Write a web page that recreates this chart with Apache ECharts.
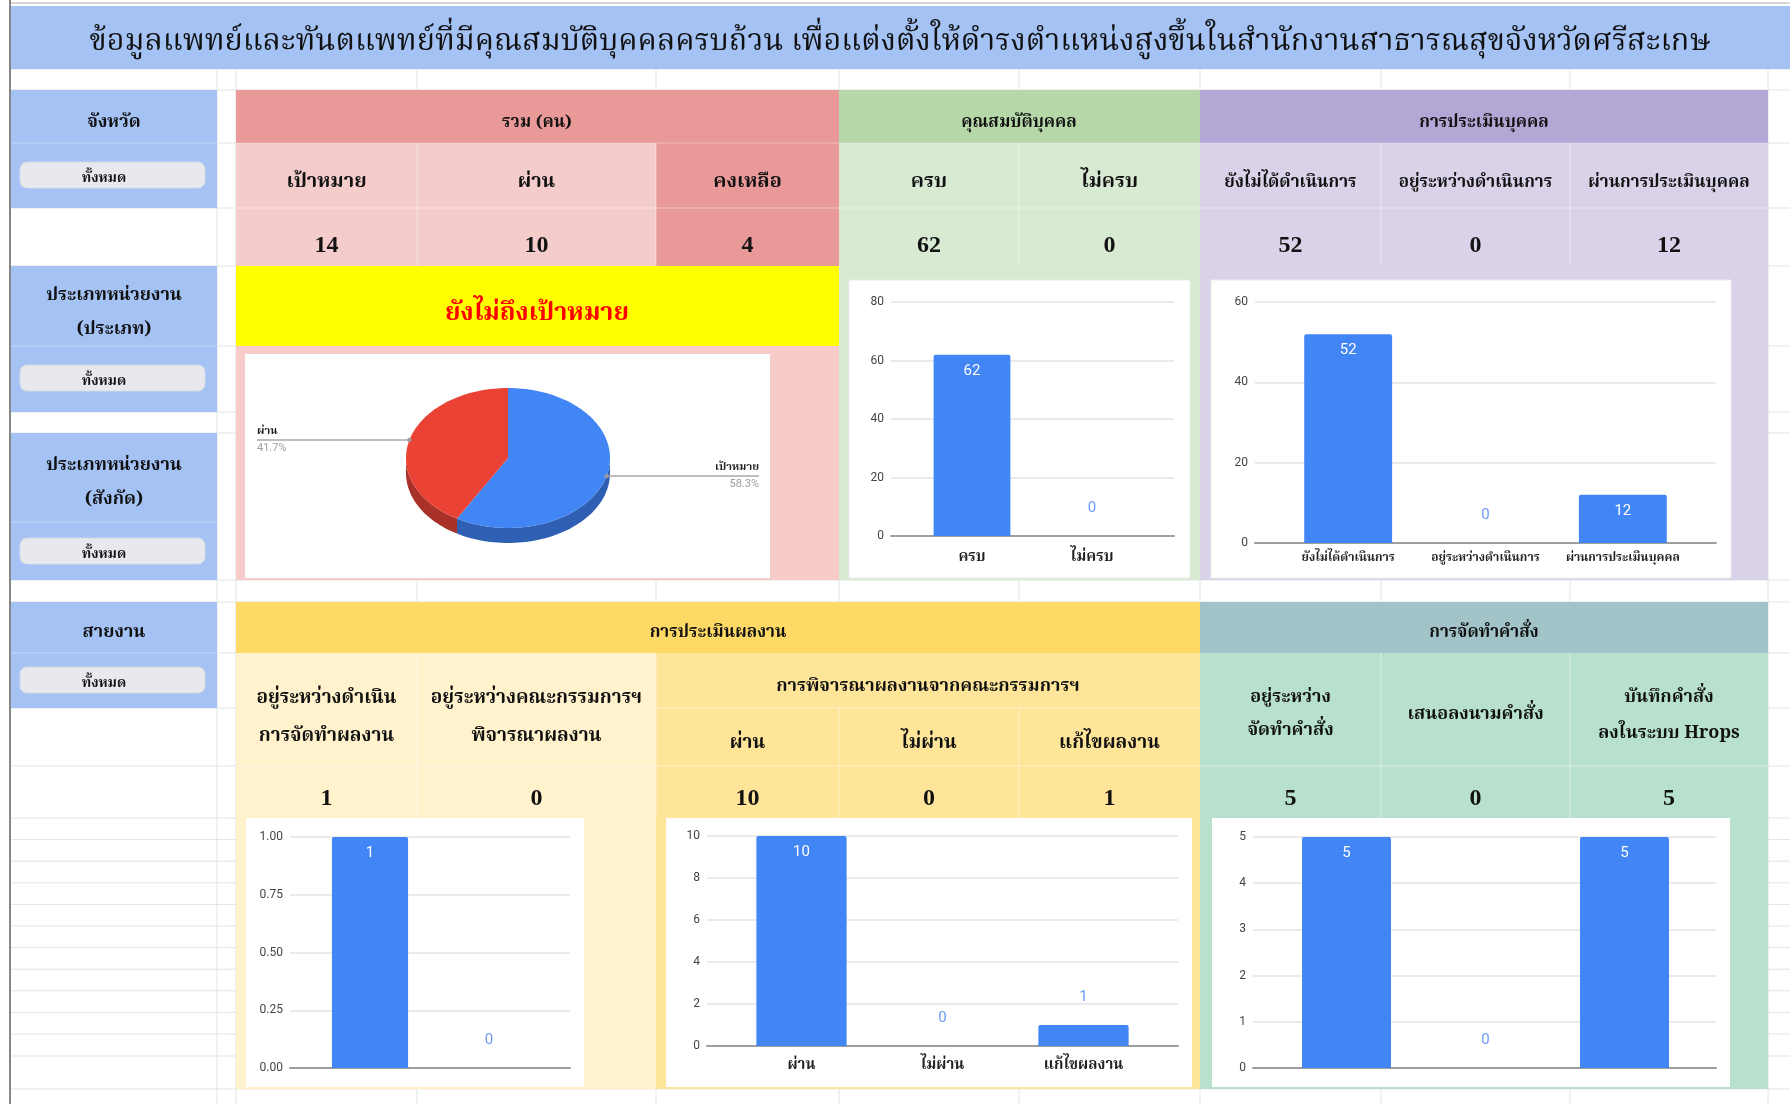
<!DOCTYPE html>
<html><head><meta charset="utf-8">
<script src="https://cdn.jsdelivr.net/npm/echarts@6/dist/echarts.min.js"></script>
<style>html,body{margin:0;padding:0;background:#fff}#c{width:1790px;height:1104px}</style>
</head><body><div id="c"></div><script>
// ---------------- data ----------------
const titleText = 'ข้อมูลแพทย์และทันตแพทย์ที่มีคุณสมบัติบุคคลครบถ้วน เพื่อแต่งตั้งให้ดำรงตำแหน่งสูงขึ้นในสำนักงานสาธารณสุขจังหวัดศรีสะเกษ';
const filterLabels = ['จังหวัด', 'ประเภทหน่วยงาน\n(ประเภท)', 'ประเภทหน่วยงาน\n(สังกัด)', 'สายงาน'];
const filterValue = 'ทั้งหมด';
const groupHeaders = ['รวม (คน)', 'คุณสมบัติบุคคล', 'การประเมินบุคคล'];
const totalCats = ['เป้าหมาย', 'ผ่าน', 'คงเหลือ'];
const totalVals = [14, 10, 4];
const qualCats = ['ครบ', 'ไม่ครบ'];
const qualVals = [62, 0];
const qualTicks = [0, 20, 40, 60, 80];
const personCats = ['ยังไม่ได้ดำเนินการ', 'อยู่ระหว่างดำเนินการ', 'ผ่านการประเมินบุคคล'];
const personVals = [52, 0, 12];
const personTicks = [0, 20, 40, 60];
const statusText = 'ยังไม่ถึงเป้าหมาย';
const pieCats = ['เป้าหมาย', 'ผ่าน'];
const pieVals = [14, 10];
const bottomHeaders = ['การประเมินผลงาน', 'การจัดทำคำสั่ง'];
const workCats = ['อยู่ระหว่างดำเนิน\nการจัดทำผลงาน', 'อยู่ระหว่างคณะกรรมการฯ\nพิจารณาผลงาน'];
const workVals = [1, 0];
const workTicks = [0, 0.25, 0.5, 0.75, 1];
const reviewHeader = 'การพิจารณาผลงานจากคณะกรรมการฯ';
const reviewCats = ['ผ่าน', 'ไม่ผ่าน', 'แก้ไขผลงาน'];
const reviewVals = [10, 0, 1];
const reviewTicks = [0, 2, 4, 6, 8, 10];
const orderCats = ['อยู่ระหว่าง\nจัดทำคำสั่ง', 'เสนอลงนามคำสั่ง', 'บันทึกคำสั่ง\nลงในระบบ Hrops'];
const orderVals = [5, 0, 5];
const orderTicks = [0, 1, 2, 3, 4, 5];

// ---------------- layout / style ----------------
const TH = "'Noto Serif Thai','Noto Sans Thai','Sarabun','Tlwg Typo','Garuda','Loma','Kinnari','Norasi','Noto Sans',sans-serif";
const NUM = "'Liberation Serif','Times New Roman',serif";
const RB = "Roboto,'Noto Sans',sans-serif";
const COLX = [236, 417, 656, 839, 1019, 1200, 1381, 1570, 1768];
const mid = i => (COLX[i] + COLX[i + 1]) / 2;
const G = [];
function rect(x, y, w, h, fill, o) {
  o = o || {};
  G.push({type: 'rect', silent: true, z: o.z != null ? o.z : 1,
    shape: {x, y, width: w, height: h, r: o.r || 0},
    style: {fill, stroke: o.stroke || null, lineWidth: o.lw || 0}});
}
function line(x1, y1, x2, y2, stroke, lw, z) {
  G.push({type: 'line', silent: true, z: z != null ? z : 2,
    shape: {x1, y1, x2, y2}, style: {stroke, lineWidth: lw || 1}});
}
function text(str, x, y, size, o) {
  o = o || {};
  G.push({type: 'text', silent: true, z: 4,
    style: {text: str, x, y, fill: o.fill || '#111',
      font: (o.weight || 'normal') + ' ' + size + 'px ' + (o.family || TH),
      align: o.align || 'center', textAlign: o.align || 'center',
      verticalAlign: 'middle', textVerticalAlign: 'middle',
      lineHeight: o.lh || Math.round(size * 1.6)}});
}
const B = {weight: 'bold'};

// spreadsheet gridlines
const rowLines = [69, 90, 143, 208, 266, 346, 412, 433, 580, 602, 653, 708, 766];
for (let k = 0; k <= 10; k++) rowLines.push(818 + 21.6 * k);
rowLines.push(1056, 1089);
rowLines.forEach(y => line(10, y, 1790, y, '#e2e3e3', 1, 0));
[217, 236].concat(COLX.slice(1)).forEach(x => line(x, 69, x, 1104, '#e2e3e3', 1, 0));
line(10, 3, 1790, 3, '#c8c8c8', 1.5, 0);
line(10, 0, 10, 1104, '#5f5f5f', 1.5, 6);

// title
rect(11, 6, 1779, 63, '#a4c2f4');
text(titleText, 900, 45, 30.5);

// left filter column
const fBoxes = [[90, 118], [266, 146], [433, 147], [602, 106]];
const fLabelY = [124, 314, 484, 634];
const fBtnY = [162, 365, 538, 667];
const fInner = [143, 346, 522, 653];
fBoxes.forEach((b, i) => {
  rect(11, b[0], 206, b[1], '#a4c2f4');
  line(11, fInner[i], 217, fInner[i], 'rgba(255,255,255,0.35)', 1, 2);
  text(filterLabels[i], 114, fLabelY[i], 18, {weight: 'bold', lh: 34});
  rect(20, fBtnY[i], 185, 26, '#e8e9ee', {r: 7, stroke: '#d6dae6', lw: 1, z: 3});
  text(filterValue, 104, fBtnY[i] + 18, 14, B);
});

// top table backgrounds
rect(236, 90, 603, 53, '#ea9999');
rect(839, 90, 361, 53, '#b6d7a8');
rect(1200, 90, 568, 53, '#b4a7d6');
rect(236, 143, 420, 123, '#f4cccc');
rect(656, 143, 183, 123, '#ea9999');
rect(839, 143, 361, 437, '#d9ead3');
rect(1200, 143, 568, 437, '#d9d2e9');
rect(236, 266, 603, 80, '#ffff00');
rect(236, 346, 603, 234, '#f8cbcb');
line(236, 208, 1768, 208, 'rgba(255,255,255,0.45)', 1, 2);
[417, 656, 1019, 1381, 1570].forEach(x => line(x, 143, x, 266, 'rgba(255,255,255,0.45)', 1, 2));
line(236, 143, 1768, 143, 'rgba(255,255,255,0.3)', 1, 2);

text(groupHeaders[0], 537, 124, 17, B);
text(groupHeaders[1], 1019, 124, 17, B);
text(groupHeaders[2], 1484, 124, 17, B);
const topCats = totalCats.concat(qualCats, personCats);
const topVals = totalVals.concat(qualVals, personVals);
topCats.forEach((c, i) => text(c, mid(i), 184, i >= 5 ? 17 : 20, B));
topVals.forEach((v, i) => text(String(v), mid(i), 246, 24, {family: NUM, weight: 'bold'}));
text(statusText, 537, 316, 25, {fill: '#ff0000', weight: 'bold'});

// white chart boxes (top)
rect(245, 354, 525, 224, '#ffffff', {z: 2});
rect(849, 280, 341, 298, '#ffffff', {z: 2, stroke: '#ececec', lw: 1});
rect(1211, 280, 520, 298, '#ffffff', {z: 2, stroke: '#ececec', lw: 1});

// bottom table backgrounds
rect(236, 602, 964, 51, '#ffd966');
rect(1200, 602, 568, 51, '#a2c4c9');
rect(236, 653, 420, 436, '#fff2cc');
rect(656, 653, 544, 436, '#ffe599');
rect(1200, 653, 568, 436, '#b7e1cd');
line(656, 708, 1200, 708, 'rgba(255,255,255,0.5)', 1, 2);
[839, 1019].forEach(x => line(x, 708, x, 818, 'rgba(255,255,255,0.5)', 1, 2));
[417, 656, 1381, 1570].forEach(x => line(x, 653, x, 818, 'rgba(255,255,255,0.5)', 1, 2));
line(236, 766, 1768, 766, 'rgba(255,255,255,0.5)', 1, 2);
text(bottomHeaders[0], 718, 634, 17, B);
text(bottomHeaders[1], 1484, 634, 17, B);
text(workCats[0], mid(0), 719, 19, {weight: 'bold', lh: 38});
text(workCats[1], mid(1), 719, 19, {weight: 'bold', lh: 38});
text(reviewHeader, 928, 688, 18, B);
reviewCats.forEach((c, i) => text(c, mid(2 + i), 745, 19, B));
text(orderCats[0], mid(5), 716, 18, {weight: 'bold', lh: 33});
text(orderCats[1], mid(6), 716, 18, B);
text(orderCats[2], mid(7), 717, 18, {weight: 'bold', lh: 36});
const botVals = workVals.concat(reviewVals, orderVals);
botVals.forEach((v, i) => text(String(v), mid(i), 799, 24, {family: NUM, weight: 'bold'}));

// white chart boxes (bottom)
rect(246, 818, 338, 269, '#ffffff', {z: 2});
rect(666, 818, 526, 269, '#ffffff', {z: 2});
rect(1212, 818, 518, 269, '#ffffff', {z: 2});

// ---------------- bar charts ----------------
const grids = [], xAxes = [], yAxes = [], series = [];
function addBar(c) {
  const gi = grids.length;
  const ymin = c.ticks[0], ymax = c.ticks[c.ticks.length - 1], step = c.ticks[1] - c.ticks[0];
  grids.push({left: c.wide[0], top: c.top, width: c.wide[1] - c.wide[0], height: c.bottom - c.top, outerBoundsMode: 'none'});
  grids.push({left: c.narrow[0], top: c.top, width: c.narrow[1] - c.narrow[0], height: c.bottom - c.top, outerBoundsMode: 'none'});
  xAxes.push({gridIndex: gi, type: 'value', min: 0, max: 1, z: 5,
    axisLine: {show: true, lineStyle: {color: '#9e9e9e', width: 2}},
    axisTick: {show: false}, axisLabel: {show: false}, splitLine: {show: false}});
  yAxes.push({gridIndex: gi, type: 'value', min: ymin, max: ymax, interval: step, z: 5,
    axisLine: {show: false}, axisTick: {show: false},
    axisLabel: {margin: 7, fontFamily: RB, fontSize: 12, color: '#444',
      formatter: v => c.dec ? v.toFixed(c.dec) : String(v)},
    splitLine: {lineStyle: {color: '#e3e3e3', width: 1.5}}});
  xAxes.push({gridIndex: gi + 1, type: 'category', data: c.cats, z: 5,
    axisLine: {show: false}, axisTick: {show: false}, splitLine: {show: false},
    axisLabel: {show: !!c.showX, interval: 0, margin: c.xMargin || 10, fontFamily: TH,
      fontWeight: 'bold', fontSize: c.xSize || 14, color: '#222'}});
  yAxes.push({gridIndex: gi + 1, type: 'value', min: ymin, max: ymax, show: false, splitLine: {show: false}});
  series.push({type: 'bar', xAxisIndex: gi + 1, yAxisIndex: gi + 1, z: 10, barWidth: '64%',
    itemStyle: {color: '#4285f4', borderRadius: [2, 2, 0, 0]},
    data: c.vals.map(v => {
      const inside = v / ymax > 0.15;
      return {value: v, label: {show: true, position: inside ? 'insideTop' : 'top',
        distance: inside ? 9 : 20, color: inside ? '#ffffff' : '#6a9bf4',
        fontFamily: RB, fontSize: 15}};
    })});
}
addBar({cats: qualCats, vals: qualVals, ticks: qualTicks, wide: [891, 1174], narrow: [912, 1152], top: 302, bottom: 536, showX: true, xSize: 15, xMargin: 15});
addBar({cats: personCats, vals: personVals, ticks: personTicks, wide: [1255, 1716], narrow: [1279.5, 1691.5], top: 302, bottom: 543, showX: true, xSize: 12, xMargin: 10});
addBar({cats: workCats, vals: workVals, ticks: workTicks, wide: [290, 570], narrow: [310.5, 548.5], top: 837, bottom: 1068, dec: 2});
addBar({cats: reviewCats, vals: reviewVals, ticks: reviewTicks, wide: [707, 1178], narrow: [731, 1154], top: 836, bottom: 1046, showX: true, xSize: 15, xMargin: 13});
addBar({cats: orderCats, vals: orderVals, ticks: orderTicks, wide: [1253, 1716], narrow: [1277, 1694], top: 837, bottom: 1068});

// ---------------- 3D-look pie (custom series) ----------------
const PIE = {cx: 508, cy: 458, rx: 102, ry: 70, depth: 15, boxL: 245, boxR: 770};
const pieTop = ['#4285f4', '#ea4335'];
const pieSide = ['#2f5fb3', '#a8322a'];
function ept(a, dy) {
  const r = a * Math.PI / 180;
  return [PIE.cx + PIE.rx * Math.sin(r), PIE.cy - PIE.ry * Math.cos(r) + (dy || 0)];
}
series.push({
  type: 'custom', coordinateSystem: 'none', z: 10, silent: true,
  data: pieVals.map((v, i) => ({name: pieCats[i], value: v})),
  renderItem: (params, api) => {
    const i = params.dataIndex;
    const v = api.value(0);
    const total = pieVals.reduce((s, x) => s + x, 0);
    const before = pieVals.slice(0, i).reduce((s, x) => s + x, 0);
    const a0 = before / total * 360, a1 = (before + v) / total * 360;
    const ch = [];
    const s0 = Math.max(a0, 90), s1 = Math.min(a1, 270);
    if (s1 > s0) {
      const up = [], dn = [];
      const n = Math.ceil((s1 - s0) / 2);
      for (let k = 0; k <= n; k++) {
        const a = s0 + (s1 - s0) * k / n;
        up.push(ept(a)); dn.unshift(ept(a, PIE.depth));
      }
      ch.push({type: 'polygon', shape: {points: up.concat(dn)}, style: {fill: pieSide[i]}, z2: 1});
    }
    const top = [[PIE.cx, PIE.cy]];
    const n2 = Math.ceil((a1 - a0) / 2);
    for (let k = 0; k <= n2; k++) top.push(ept(a0 + (a1 - a0) * k / n2));
    ch.push({type: 'polygon', shape: {points: top}, style: {fill: pieTop[i]}, z2: 2});
    const p = ept((a0 + a1) / 2);
    const left = p[0] < PIE.cx;
    const ex = left ? PIE.boxL + 12 : PIE.boxR - 11;
    ch.push({type: 'line', shape: {x1: p[0], y1: p[1], x2: ex, y2: p[1]}, style: {stroke: '#a8a8a8', lineWidth: 1.5}, z2: 3});
    ch.push({type: 'circle', shape: {cx: p[0], cy: p[1], r: 2.2}, style: {fill: '#9a9a9a'}, z2: 4});
    const al = left ? 'left' : 'right';
    ch.push({type: 'text', z2: 5, style: {text: pieCats[i], x: ex, y: p[1] - 8, fill: '#222',
      font: 'bold 11px ' + TH, align: al, textAlign: al, verticalAlign: 'middle', textVerticalAlign: 'middle'}});
    ch.push({type: 'text', z2: 5, style: {text: (v / total * 100).toFixed(1) + '%', x: ex, y: p[1] + 8, fill: '#9e9e9e',
      font: '11px ' + RB, align: al, textAlign: al, verticalAlign: 'middle', textVerticalAlign: 'middle'}});
    return {type: 'group', children: ch};
  }
});

const chart = echarts.init(document.getElementById('c'), null, {renderer: 'canvas'});
chart.setOption({
  animation: false,
  backgroundColor: '#ffffff',
  grid: grids, xAxis: xAxes, yAxis: yAxes, series,
  graphic: {elements: G}
});
</script></body></html>
